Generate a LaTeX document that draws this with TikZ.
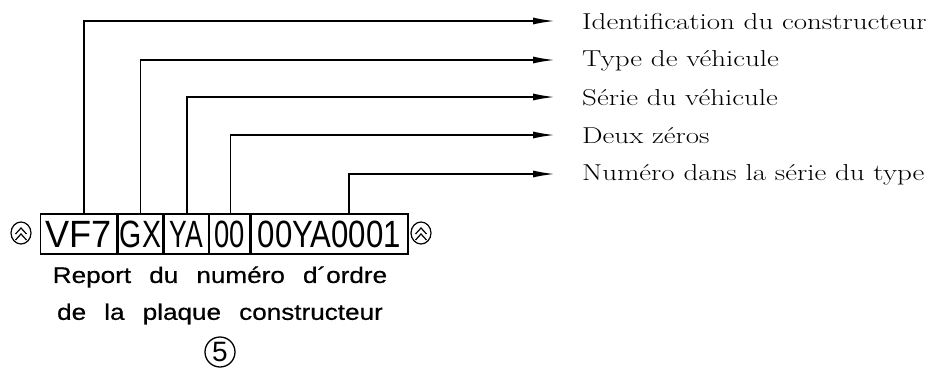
\documentclass[tikz,border=0pt]{standalone}
\usepackage{fontspec}
\setmainfont{Latin Modern Roman}
\setsansfont{Liberation Sans}
\newfontfamily\capfont{Liberation Sans}[WordSpace=2.5, FakeBold=0.5]
\usetikzlibrary{arrows.meta}
\tikzset{
  seg/.style={draw, line width=1.3pt, minimum height=40pt, inner sep=0pt, anchor=west,
              font=\sffamily\fontsize{38}{38}\selectfont},
  lbl/.style={anchor=west, inner sep=0pt, font=\fontsize{23}{23}\selectfont},
  lead/.style={line width=1.7pt, -{Latex[length=22pt,width=7pt]}},
  captext/.style={inner sep=0pt, font=\capfont\fontsize{22.5}{22.5}\selectfont},
}
\newcommand{\chevlogo}[1]{%
  \draw[line width=1.2pt] (#1) ellipse (10pt and 11pt);
  \draw[line width=1.2pt] ([shift={(-5.5,1)}]#1) -- ([shift={(0,-5)}]#1) -- ([shift={(5.5,1)}]#1);
  \draw[line width=1.2pt] ([shift={(-5.5,7)}]#1) -- ([shift={(0,1)}]#1) -- ([shift={(5.5,7)}]#1);
}
\newcommand{\wide}[1]{\scalebox{1.26}[1]{#1}}
\begin{document}
\begin{tikzpicture}[x=1pt,y=-1pt]
\useasboundingbox (0,0) rectangle (930,375);
% code segments
\node[seg, minimum width=76pt] (b1) at (40,234) {\scalebox{0.95}[1]{VF7}};
\node[seg, minimum width=45pt] (b2) at (b1.east) {\scalebox{0.75}[1]{GX}};
\node[seg, minimum width=44pt] (b3) at (b2.east) {\scalebox{0.7}[1]{YA}};
\node[seg, minimum width=40pt] (b4) at (b3.east) {\scalebox{0.72}[1]{00}};
\node[seg, minimum width=157pt] (b5) at (b4.east) {\scalebox{0.82}[1]{00YA0001}};
% logos
\coordinate (lg1) at (21,233);
\coordinate (lg2) at (421,233);
\chevlogo{lg1}
\chevlogo{lg2}
% labels
\node[lbl] (l1) at (582,22) {\wide{Identification du constructeur}};
\node[lbl] (l2) at (582,61) {\wide{Type de véhicule}};
\node[lbl] (l3) at (582,98) {\wide{Série du véhicule}};
\node[lbl] (l4) at (582,136) {\wide{Deux zéros}};
\node[lbl] (l5) at (582,175) {\wide{Numéro dans la série du type}};
% leaders
\draw[lead] ([xshift=5pt]b1.north) |- ([shift={(-27pt,1pt)}]l1.west);
\draw[lead] (b2.north) |- ([shift={(-27pt,1pt)}]l2.west);
\draw[lead] ([xshift=0.5pt]b3.north) |- ([shift={(-27pt,1pt)}]l3.west);
\draw[lead] ([xshift=1pt]b4.north) |- ([shift={(-27pt,1pt)}]l4.west);
\draw[lead] ([xshift=19.5pt]b5.north) |- ([shift={(-27pt,1pt)}]l5.west);
% caption
\node[captext] (c1) at (220,277) {\scalebox{1.16}[1]{Report du numéro d´ordre}};
\node[captext] (c2) at (220,314) {\scalebox{1.16}[1]{de la plaque constructeur}};
\node[draw, circle, line width=1.3pt, minimum size=30pt, inner sep=0pt,
      font=\sffamily\fontsize{28}{28}\selectfont] (n5) at (220,352) {5};
\end{tikzpicture}
\end{document}
